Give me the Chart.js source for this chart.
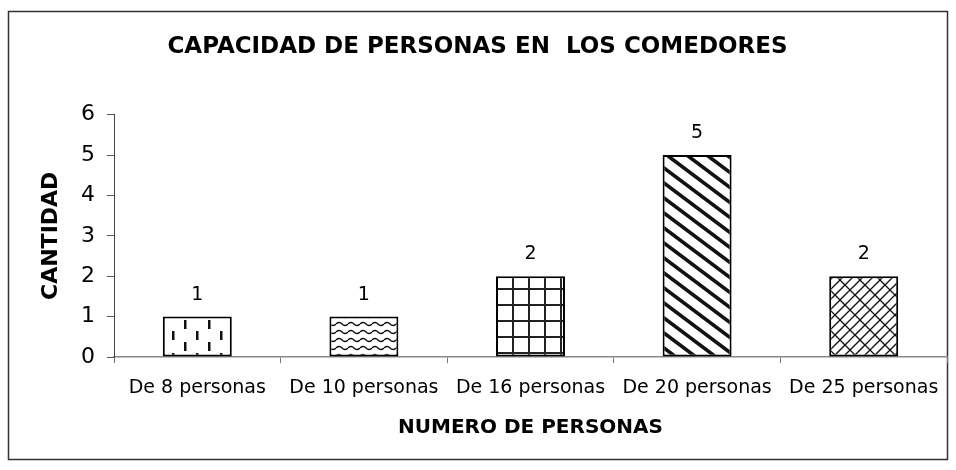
<!DOCTYPE html>
<html>
<head>
<meta charset="utf-8">
<script src="https://cdn.jsdelivr.net/npm/chart.js@4.4.0/dist/chart.umd.min.js"></script>
<style>
  html, body { margin: 0; padding: 0; background: #fff; }
</style>
</head>
<body>
<canvas id="chart" width="956" height="470"></canvas>
<script>
// datos del grafico
const categorias = ["De 8 personas", "De 10 personas", "De 16 personas", "De 20 personas", "De 25 personas"];
const cantidades = [1, 1, 2, 5, 2];
const yMin = 0;
const yMax = 6;
const yPaso = 1;
const titulo = "CAPACIDAD DE PERSONAS EN  LOS COMEDORES";
const tituloX = "NUMERO DE PERSONAS";
const tituloY = "CANTIDAD";

const ctx = document.getElementById("chart").getContext("2d");

function makePattern(w, h, draw) {
    const c = document.createElement("canvas");
    c.width = w;
    c.height = h;
    const g = c.getContext("2d");
    g.fillStyle = "#fff";
    g.fillRect(0, 0, w, h);
    g.fillStyle = "#111";
    g.strokeStyle = "#111";
    draw(g, w, h);
    return ctx.createPattern(c, "repeat");
}

// rayas verticales cortas
const pRayas = makePattern(24, 22, (g) => {
    g.fillRect(4, 1, 2.5, 9);
    g.fillRect(16, 12, 2.5, 9);
});

// ondas
const pOndas = makePattern(12, 8, (g) => {
    g.lineWidth = 1.4;
    g.beginPath();
    g.moveTo(0, 4);
    g.quadraticCurveTo(3, 1, 6, 4);
    g.quadraticCurveTo(9, 7, 12, 4);
    g.stroke();
});

// cuadricula
const pCuadros = makePattern(16, 16, (g) => {
    g.fillStyle = "#222";
    g.fillRect(0, 0, 16, 2);
    g.fillRect(0, 0, 2, 16);
});

// diagonales gruesas
const pDiagonal = makePattern(20, 15, (g, w, h) => {
    g.lineWidth = 3.6;
    for (let k = -3; k <= 3; k++) {
        g.beginPath();
        g.moveTo(-w, -h + k * h);
        g.lineTo(2 * w, 2 * h + k * h);
        g.stroke();
    }
});

// enrejado diagonal (lineas / con trazos cortos \ alternados)
const pEnrejado = makePattern(20, 20, (g) => {
    g.lineWidth = 1.3;
    for (let k = -4; k <= 6; k++) {
        const c = 10 * k;
        g.beginPath();
        g.moveTo(-10, c + 10);
        g.lineTo(40, c - 40);
        g.stroke();
        const off = (k % 2 === 0) ? 0 : 5;
        for (let b = -40; b <= 50; b += 10) {
            const a = b + off;
            g.beginPath();
            g.moveTo(a, c - a);
            g.lineTo(a + 5, c - a + 5);
            g.stroke();
        }
    }
});

const patrones = [pRayas, pOndas, pCuadros, pDiagonal, pEnrejado];

const marco = {
    id: "marco",
    beforeDraw(chart) {
        const c = chart.ctx;
        c.save();
        c.fillStyle = "#fff";
        c.fillRect(0, 0, chart.width, chart.height);
        c.strokeStyle = "#333";
        c.lineWidth = 1.5;
        c.strokeRect(8.5, 11.5, 939, 448);
        c.restore();
    }
};

const etiquetas = {
    id: "etiquetas",
    afterDatasetsDraw(chart) {
        const c = chart.ctx;
        const meta = chart.getDatasetMeta(0);
        c.save();
        c.fillStyle = "#000";
        c.font = "19px 'DejaVu Sans'";
        c.textAlign = "center";
        c.textBaseline = "middle";
        meta.data.forEach((bar, i) => {
            c.fillText(String(cantidades[i]), bar.x, bar.y - 22);
        });
        c.restore();
    }
};

new Chart(ctx, {
    type: "bar",
    data: {
        labels: categorias,
        datasets: [{
            data: cantidades,
            backgroundColor: patrones,
            borderColor: "#000",
            borderWidth: 2,
            borderSkipped: false,
            categoryPercentage: 1,
            barPercentage: 0.414
        }]
    },
    options: {
        responsive: false,
        animation: false,
        layout: { padding: { top: 11, left: 8, right: 9, bottom: 11 } },
        plugins: {
            legend: { display: false },
            tooltip: { enabled: false },
            title: {
                display: true,
                text: titulo,
                color: "#000",
                font: { family: "'DejaVu Sans'", size: 23, weight: "bold" },
                padding: { top: 22, bottom: 54 }
            }
        },
        scales: {
            x: {
                grid: { drawOnChartArea: false, tickLength: 6, color: "#777", offset: true },
                border: { color: "#888", width: 1.5 },
                ticks: {
                    color: "#000",
                    font: { family: "'DejaVu Sans'", size: 19 },
                    padding: 14,
                    maxRotation: 0,
                    autoSkip: false
                },
                title: {
                    display: true,
                    text: tituloX,
                    color: "#000",
                    font: { family: "'DejaVu Sans'", size: 20, weight: "bold" },
                    padding: { top: 0, bottom: 19 }
                },
                afterFit: (s) => { s.height = 102; }
            },
            y: {
                min: yMin,
                max: yMax,
                grid: { drawOnChartArea: false, tickLength: 7, color: "#555" },
                border: { color: "#444", width: 1 },
                ticks: {
                    stepSize: yPaso,
                    color: "#000",
                    font: { family: "'DejaVu Sans'", size: 22 },
                    padding: 12
                },
                title: {
                    display: true,
                    text: tituloY,
                    color: "#000",
                    font: { family: "'DejaVu Sans'", size: 22, weight: "bold" },
                    padding: { top: 30, bottom: 0 }
                },
                afterFit: (s) => { s.width = 106; }
            }
        }
    },
    plugins: [marco, etiquetas]
});
</script>
</body>
</html>
